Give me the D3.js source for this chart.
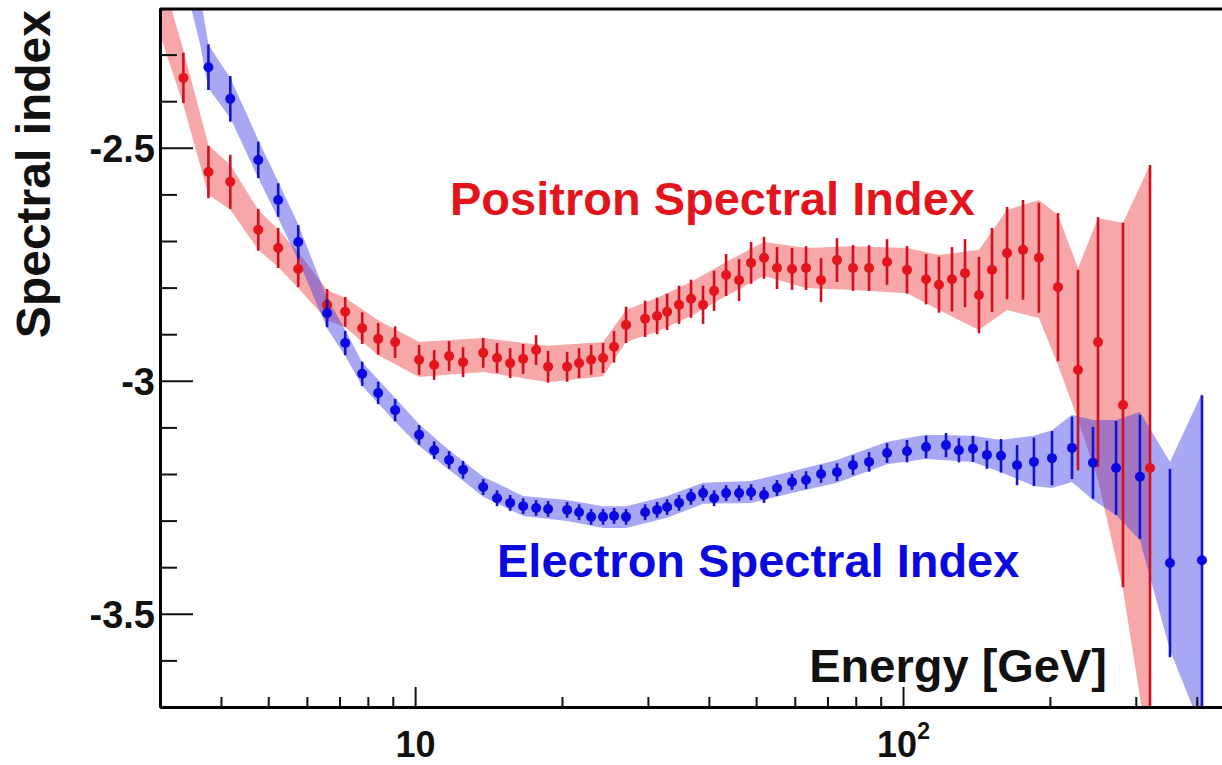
<!DOCTYPE html>
<html>
<head>
<meta charset="utf-8">
<script src="https://cdn.jsdelivr.net/npm/d3@7"></script>
<style>
  html, body { margin: 0; padding: 0; background: #fff; }
  svg { display: block; }
  text { font-family: "Liberation Sans", Arial, Helvetica, sans-serif; font-weight: bold; }
</style>
</head>
<body>
<div id="main"></div>
<script>
// positron spectral index (energy in GeV, index, stat error)
const posEnergy = [3.35, 3.77, 4.18, 4.77, 5.24, 5.76, 6.60, 7.19, 7.79, 8.40, 9.10, 10.19, 10.94, 11.74, 12.54,
  13.79, 14.72, 15.66, 16.65, 17.70, 18.73, 20.49, 21.68, 22.95, 24.28, 25.57, 27.06, 29.61, 31.33, 32.85,
  34.75, 36.77, 38.92, 41.00, 43.39, 46.13, 48.82, 51.90, 55.18, 59.23, 63.28, 67.92, 73.23, 78.97, 85.19,
  92.74, 101.9, 111.5, 118.5, 126.0, 134.0, 143.1, 152.2, 163.4, 176.2, 189.9, 207.8, 228.4, 251.0, 282.4, 320.8];
const posIndex = [-2.350, -2.552, -2.573, -2.676, -2.715, -2.760, -2.837, -2.852, -2.887, -2.910, -2.917, -2.955,
  -2.966, -2.947, -2.960, -2.940, -2.951, -2.962, -2.953, -2.934, -2.970, -2.970, -2.962, -2.955, -2.951, -2.927,
  -2.880, -2.867, -2.861, -2.852, -2.837, -2.824, -2.837, -2.807, -2.773, -2.784, -2.747, -2.736, -2.758, -2.760,
  -2.758, -2.784, -2.741, -2.758, -2.758, -2.745, -2.762, -2.782, -2.794, -2.782, -2.769, -2.816, -2.762, -2.726,
  -2.719, -2.736, -2.799, -2.977, -2.917, -3.052, -3.187];
const posErr = [0.054, 0.056, 0.058, 0.045, 0.043, 0.039, 0.034, 0.032, 0.034, 0.034, 0.034, 0.032, 0.032, 0.032,
  0.032, 0.032, 0.032, 0.032, 0.032, 0.032, 0.034, 0.032, 0.032, 0.032, 0.032, 0.034, 0.039, 0.039, 0.039, 0.039,
  0.041, 0.041, 0.041, 0.043, 0.045, 0.045, 0.045, 0.045, 0.045, 0.045, 0.047, 0.047, 0.047, 0.049, 0.049, 0.049,
  0.051, 0.054, 0.060, 0.069, 0.073, 0.082, 0.090, 0.099, 0.107, 0.118, 0.159, 0.215, 0.268, 0.391, 0.650];

// electron spectral index
const eleEnergy = [3.77, 4.18, 4.77, 5.24, 5.76, 6.60, 7.19, 7.79, 8.40, 9.10, 10.19, 10.94, 11.74, 12.54, 13.79,
  14.72, 15.66, 16.65, 17.70, 18.73, 20.49, 21.68, 22.95, 24.28, 25.57, 27.06, 29.61, 31.33, 32.85, 34.75, 36.77,
  38.92, 41.00, 43.39, 46.13, 48.82, 51.90, 55.18, 59.23, 63.28, 67.92, 73.23, 78.97, 85.19, 92.74, 101.9, 111.5,
  122.5, 130.2, 139.1, 148.6, 158.8, 171.3, 185.5, 202.0, 222.0, 245.1, 273.3, 305.9, 352.5, 410.0];
const eleIndex = [-2.327, -2.395, -2.526, -2.612, -2.702, -2.855, -2.919, -2.985, -3.026, -3.063, -3.116, -3.149,
  -3.170, -3.191, -3.228, -3.252, -3.262, -3.269, -3.273, -3.275, -3.277, -3.282, -3.292, -3.292, -3.290, -3.292,
  -3.282, -3.277, -3.271, -3.262, -3.249, -3.241, -3.252, -3.241, -3.241, -3.239, -3.245, -3.230, -3.217, -3.213,
  -3.200, -3.196, -3.181, -3.174, -3.155, -3.151, -3.142, -3.138, -3.149, -3.146, -3.159, -3.161, -3.181, -3.174,
  -3.166, -3.144, -3.176, -3.187, -3.206, -3.391, -3.385];
const eleErr = [0.049, 0.049, 0.039, 0.036, 0.036, 0.030, 0.026, 0.026, 0.024, 0.024, 0.021, 0.019, 0.019, 0.019,
  0.017, 0.017, 0.017, 0.017, 0.017, 0.017, 0.017, 0.017, 0.017, 0.017, 0.017, 0.017, 0.017, 0.017, 0.017, 0.017,
  0.017, 0.017, 0.017, 0.017, 0.017, 0.017, 0.017, 0.017, 0.017, 0.019, 0.019, 0.019, 0.021, 0.021, 0.021, 0.024,
  0.024, 0.026, 0.026, 0.028, 0.030, 0.036, 0.043, 0.052, 0.058, 0.067, 0.077, 0.101, 0.133, 0.202, 0.354];

// shaded bands (energy, lower edge, upper edge)
const posBandE = [3.003, 3.35, 3.77, 4.18, 4.77, 5.24, 5.76, 6.60, 7.19, 8.40, 10.19, 13.79, 18.73, 24.28, 27.06,
  31.33, 36.77, 43.39, 51.90, 63.28, 78.97, 101.9, 118.5, 143.1, 163.4, 189.9, 207.8, 228.4, 251.0, 282.4, 320.8];
const posBandLo = [-2.258, -2.408, -2.601, -2.633, -2.719, -2.756, -2.801, -2.870, -2.885, -2.945, -2.992, -2.981,
  -3.003, -2.990, -2.917, -2.895, -2.861, -2.818, -2.775, -2.801, -2.805, -2.812, -2.848, -2.891, -2.848, -2.865,
  -2.966, -3.084, -3.213, -3.449, -3.814];
const posBandHi = [-2.118, -2.290, -2.494, -2.537, -2.633, -2.676, -2.724, -2.805, -2.822, -2.870, -2.917, -2.908,
  -2.925, -2.917, -2.848, -2.822, -2.788, -2.745, -2.702, -2.715, -2.711, -2.715, -2.730, -2.719, -2.633, -2.612,
  -2.644, -2.758, -2.651, -2.661, -2.537];

const eleBandE = [3.425, 3.626, 3.77, 4.18, 4.77, 5.24, 5.76, 6.60, 7.19, 7.79, 9.10, 10.19, 11.74, 13.79, 16.65,
  20.49, 24.28, 27.06, 32.85, 38.92, 48.82, 59.23, 73.23, 92.74, 111.5, 139.1, 158.8, 185.5, 202.0, 222.0, 245.1,
  273.3, 305.9, 352.5, 410.0];
const eleBandLo = [-2.172, -2.279, -2.372, -2.436, -2.565, -2.651, -2.741, -2.887, -2.947, -3.011, -3.088, -3.140,
  -3.191, -3.249, -3.290, -3.301, -3.316, -3.316, -3.294, -3.264, -3.262, -3.241, -3.219, -3.179, -3.168, -3.174,
  -3.196, -3.226, -3.230, -3.217, -3.256, -3.288, -3.342, -3.578, -3.749];
const eleBandHi = [-2.054, -2.172, -2.279, -2.350, -2.483, -2.573, -2.664, -2.822, -2.891, -2.960, -3.037, -3.093,
  -3.149, -3.206, -3.247, -3.256, -3.269, -3.269, -3.247, -3.219, -3.215, -3.194, -3.170, -3.131, -3.116, -3.118,
  -3.127, -3.118, -3.106, -3.073, -3.084, -3.084, -3.067, -3.174, -3.026];

const yMajorTicks = [-3.5, -3, -2.5];
const yMinorTicks = [-3.6, -3.4, -3.3, -3.2, -3.1, -2.9, -2.8, -2.7, -2.6, -2.4, -2.3];
const xMajorTicks = [10, 100];
const xMinorTicks = [4, 5, 6, 7, 8, 9, 20, 30, 40, 50, 60, 70, 80, 90, 200, 300, 400];

const width = 1222;
const height = 765;
const plotLeft = 160;
const plotRight = 1222;
const plotTop = 8;
const plotBottom = 707;

const red = "#e3141c";
const blue = "#0a0ae0";

const svg = d3.select("#main").append("svg").attr("width", width).attr("height", height);

const x = d3.scaleLog().domain([3.0, 450.6]).range([plotLeft, plotRight]);
const y = d3.scaleLinear().domain([-3.7, -2.2]).range([plotBottom, plotTop]);

svg.append("clipPath").attr("id", "plot-clip")
  .append("rect").attr("x", plotLeft).attr("y", plotTop)
  .attr("width", plotRight - plotLeft).attr("height", plotBottom - plotTop);

const plot = svg.append("g").attr("clip-path", "url(#plot-clip)");

const bandArea = d3.area()
  .x((d) => x(d[0]))
  .y0((d) => y(d[1]))
  .y1((d) => y(d[2]));

const posBand = posBandE.map((e, i) => [e, posBandLo[i], posBandHi[i]]);
const eleBand = eleBandE.map((e, i) => [e, eleBandLo[i], eleBandHi[i]]);

plot.append("path").datum(posBand).attr("d", bandArea)
  .attr("fill", "rgb(240, 80, 80)").attr("fill-opacity", 0.5);
plot.append("path").datum(eleBand).attr("d", bandArea)
  .attr("fill", "rgb(60, 60, 230)").attr("fill-opacity", 0.45);

const drawPoints = (energy, index, err, color, barColor) => {
  const pts = energy.map((e, i) => ({ e: e, v: index[i], err: err[i] }));
  const g = plot.append("g");
  g.selectAll("line")
    .data(pts)
    .enter()
    .append("line")
    .attr("x1", (d) => x(d.e))
    .attr("x2", (d) => x(d.e))
    .attr("y1", (d) => y(d.v - d.err))
    .attr("y2", (d) => y(d.v + d.err))
    .attr("stroke", barColor)
    .attr("stroke-width", 2.6);
  g.selectAll("circle")
    .data(pts)
    .enter()
    .append("circle")
    .attr("cx", (d) => x(d.e))
    .attr("cy", (d) => y(d.v))
    .attr("r", 5)
    .attr("fill", color);
};

drawPoints(posEnergy, posIndex, posErr, red, "#d01020");
drawPoints(eleEnergy, eleIndex, eleErr, blue, "#1414c8");

// axes
const yAxis = svg.append("g").attr("transform", `translate(${plotLeft},0)`)
  .call(d3.axisLeft(y).tickValues(yMajorTicks).tickSize(-33).tickSizeOuter(0).tickPadding(5)
    .tickFormat((d) => String(d)));
svg.append("g").attr("transform", `translate(${plotLeft},0)`)
  .call(d3.axisLeft(y).tickValues(yMinorTicks).tickSize(-17).tickSizeOuter(0).tickFormat(""));

const xAxis = svg.append("g").attr("transform", `translate(0,${plotBottom})`)
  .call(d3.axisBottom(x).tickValues(xMajorTicks).tickSize(-20).tickSizeOuter(0).tickPadding(24)
    .tickFormat(() => "10"));
svg.append("g").attr("transform", `translate(0,${plotBottom})`)
  .call(d3.axisBottom(x).tickValues(xMinorTicks).tickSize(-10).tickSizeOuter(0).tickFormat(""));

svg.selectAll(".domain").attr("stroke", "#000").attr("stroke-width", 3);
svg.selectAll(".tick line").attr("stroke", "#111").attr("stroke-width", 2);

yAxis.selectAll("text").style("font-size", "38px").attr("fill", "#111").attr("dy", "0.36em");
xAxis.selectAll("text").style("font-size", "36px").attr("fill", "#111");
xAxis.selectAll(".tick").filter((d) => d === 100).select("text")
  .append("tspan").attr("dy", "-0.75em").style("font-size", "23px").text("2");

// frame top
svg.append("line").attr("x1", plotLeft).attr("x2", plotRight)
  .attr("y1", plotTop + 1).attr("y2", plotTop + 1)
  .attr("stroke", "#000").attr("stroke-width", 3);

// titles
svg.append("text")
  .attr("transform", `translate(50,${plotTop + 2}) rotate(-90)`)
  .attr("text-anchor", "end")
  .style("font-size", "48px")
  .attr("fill", "#111")
  .text("Spectral index");

svg.append("text")
  .attr("x", 1107).attr("y", 682)
  .attr("text-anchor", "end")
  .style("font-size", "47px")
  .attr("fill", "#111")
  .text("Energy [GeV]");

svg.append("text")
  .attr("x", 450).attr("y", 215)
  .style("font-size", "47px")
  .attr("fill", red)
  .text("Positron Spectral Index");

svg.append("text")
  .attr("x", 497).attr("y", 577)
  .style("font-size", "47px")
  .attr("fill", blue)
  .text("Electron Spectral Index");
</script>
</body>
</html>
